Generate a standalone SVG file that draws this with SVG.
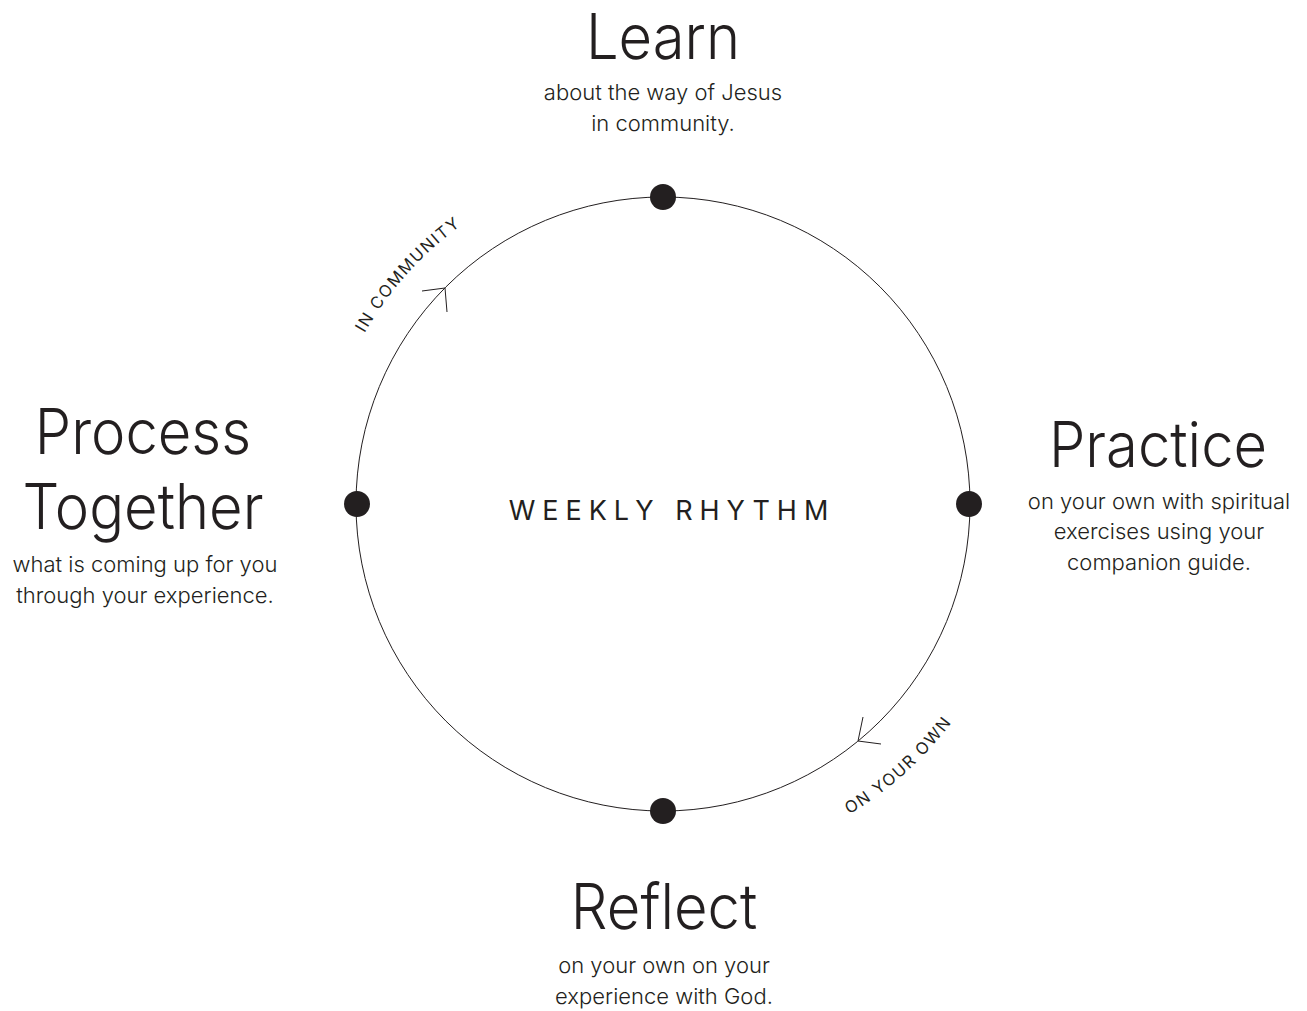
<svg xmlns="http://www.w3.org/2000/svg" xmlns:xlink="http://www.w3.org/1999/xlink" width="1307" height="1011" viewBox="0 0 1307 1011">
  <style>
    text { font-family: Inter, "Noto Sans", "Liberation Sans", sans-serif; fill: #231f20; }
    .title { font-size: 63px; font-weight: 300; text-anchor: middle; }
    .sub { font-size: 22px; font-weight: 350; text-anchor: middle; }
    .center { font-size: 27px; font-weight: 400; letter-spacing: 7px; text-anchor: middle; }
    .arc { font-size: 16.5px; font-weight: 400; letter-spacing: 1.6px; }
    .ring { fill: none; stroke: #231f20; stroke-width: 1; }
    .chev { fill: none; stroke: #231f20; stroke-width: 1; stroke-linejoin: miter; }
    .dot { fill: #231f20; }
  </style>
  <defs>
    <path id="arcIn" d="M 319 504 A 344 344 0 0 1 627 161.9"/>
    <path id="arcOwn" d="M 675.6 865.8 A 362 362 0 0 0 1021.5 554.4"/>
  </defs>
  <rect width="1307" height="1011" fill="#ffffff"/>

  <g id="connectors">
    <path class="ring" d="M 663 197 A 307 307 0 0 1 970 504"/>
    <path class="ring" d="M 970 504 A 307 307 0 0 1 663 811"/>
    <path class="ring" d="M 663 811 A 307 307 0 0 1 356 504"/>
    <path class="ring" d="M 356 504 A 307 307 0 0 1 663 197"/>
    <polyline class="chev" points="422,291 445,288 447,312"/>
    <polyline class="chev" points="863,717 858,741 881,744"/>
    <text class="arc"><textPath xlink:href="#arcIn" startOffset="50%" text-anchor="middle">IN COMMUNITY</textPath></text>
    <text class="arc"><textPath xlink:href="#arcOwn" startOffset="50%" text-anchor="middle">ON YOUR OWN</textPath></text>
  </g>

  <g id="center">
    <text class="center" x="672" y="520">WEEKLY RHYTHM</text>
  </g>

  <g id="learn">
    <circle class="dot" cx="663" cy="197" r="13"/>
    <text class="title" transform="translate(663,59) scale(0.92,1)">Learn</text>
    <text class="sub" x="663" y="100">about the way of Jesus</text>
    <text class="sub" x="663" y="131">in community.</text>
  </g>

  <g id="practice">
    <circle class="dot" cx="969" cy="504" r="13"/>
    <text class="title" transform="translate(1158,467) scale(0.92,1)">Practice</text>
    <text class="sub" x="1159" y="509">on your own with spiritual</text>
    <text class="sub" x="1159" y="539">exercises using your</text>
    <text class="sub" x="1159" y="570">companion guide.</text>
  </g>

  <g id="reflect">
    <circle class="dot" cx="663" cy="811" r="13"/>
    <text class="title" transform="translate(664,929) scale(0.92,1)">Reflect</text>
    <text class="sub" x="664" y="973">on your own on your</text>
    <text class="sub" x="664" y="1004">experience with God.</text>
  </g>

  <g id="process">
    <circle class="dot" cx="357" cy="504" r="13"/>
    <text class="title" transform="translate(143,454) scale(0.92,1)">Process</text>
    <text class="title" transform="translate(143,529) scale(0.92,1)">Together</text>
    <text class="sub" x="145" y="572">what is coming up for you</text>
    <text class="sub" x="145" y="603">through your experience.</text>
  </g>
</svg>
